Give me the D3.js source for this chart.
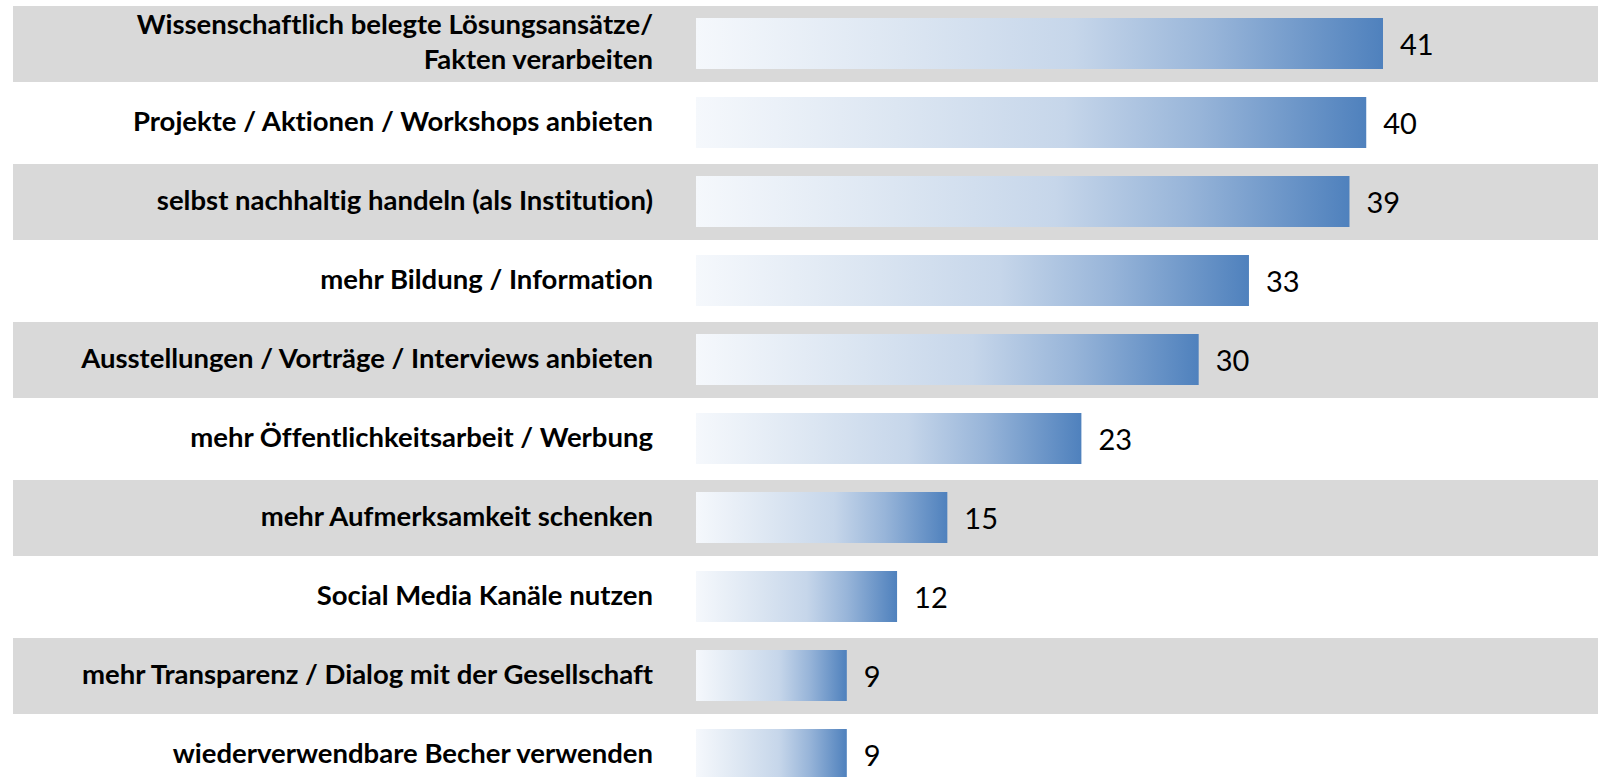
<!DOCTYPE html>
<html>
<head>
<meta charset="utf-8">
<script src="https://cdn.jsdelivr.net/npm/d3@7"></script>
<style>
  html, body { margin: 0; padding: 0; background: #fff; }
  svg { display: block; }
  text { font-variant-ligatures: none; font-feature-settings: "liga" 0; }
</style>
</head>
<body>
<div id="chart"></div>
<script>
// Daten
const categories = [
    "Wissenschaftlich belegte Lösungsansätze/\nFakten verarbeiten",
    "Projekte / Aktionen / Workshops anbieten",
    "selbst nachhaltig handeln (als Institution)",
    "mehr Bildung / Information",
    "Ausstellungen / Vorträge / Interviews anbieten",
    "mehr Öffentlichkeitsarbeit / Werbung",
    "mehr Aufmerksamkeit schenken",
    "Social Media Kanäle nutzen",
    "mehr Transparenz / Dialog mit der Gesellschaft",
    "wiederverwendbare Becher verwenden"
];
const values = [41, 40, 39, 33, 30, 23, 15, 12, 9, 9];

const width = 1598, height = 777;

const svg = d3.select("#chart")
    .append("svg")
    .attr("width", width)
    .attr("height", height);

// Verlauf für die Balken
const grad = svg.append("defs")
    .append("linearGradient")
    .attr("id", "barGrad")
    .attr("x1", "0%").attr("x2", "100%")
    .attr("y1", "0%").attr("y2", "0%");

[
    [0, "#f5f8fc"],
    [0.3, "#dce6f2"],
    [0.55, "#c6d6ea"],
    [0.75, "#98b5d9"],
    [1, "#4f81bd"]
].forEach(([o, c]) => grad.append("stop").attr("offset", o).attr("stop-color", c));

// Skalen
const y = d3.scaleBand()
    .domain(categories)
    .range([6, 796]);

const x = d3.scaleLinear()
    .domain([0, 41])
    .range([696, 1383]);

const rows = svg.selectAll(".row")
    .data(categories.map((c, i) => ({ cat: c, val: values[i], i })))
    .enter()
    .append("g")
    .attr("class", "row");

// Graue Streifen (jede zweite Zeile)
rows.filter(d => d.i % 2 === 0)
    .append("rect")
    .attr("x", 13)
    .attr("y", d => y(d.cat))
    .attr("width", width - 13)
    .attr("height", y.step() - 3)
    .attr("fill", "#d9d9d9");

// Balken
rows.append("rect")
    .attr("x", x(0))
    .attr("y", d => y(d.cat) + 12)
    .attr("width", d => x(d.val) - x(0))
    .attr("height", 51)
    .attr("fill", "url(#barGrad)");

// Werte
rows.append("text")
    .attr("x", d => x(d.val) + 17)
    .attr("y", d => y(d.cat) + 12 + 25.5 + 11)
    .attr("font-family", "Lato, 'Open Sans', sans-serif")
    .attr("font-size", "29px")
    .attr("fill", "#000")
    .text(d => d.val);

// Kategorienbeschriftungen
rows.each(function (d) {
    const lines = d.cat.split("\n");
    const cy = y(d.cat) + 12 + 25.5;
    const lh = 35;
    const t = d3.select(this).append("text")
        .attr("text-anchor", "end")
        .attr("font-family", "Lato, 'Open Sans', sans-serif")
        .attr("font-weight", "bold")
        .attr("font-size", "27.5px")
        .attr("fill", "#000");
    lines.forEach((l, k) => {
        t.append("tspan")
            .attr("x", 653)
            .attr("y", cy + 8 + (k - (lines.length - 1) / 2) * lh)
            .text(l);
    });
});
</script>
</body>
</html>
